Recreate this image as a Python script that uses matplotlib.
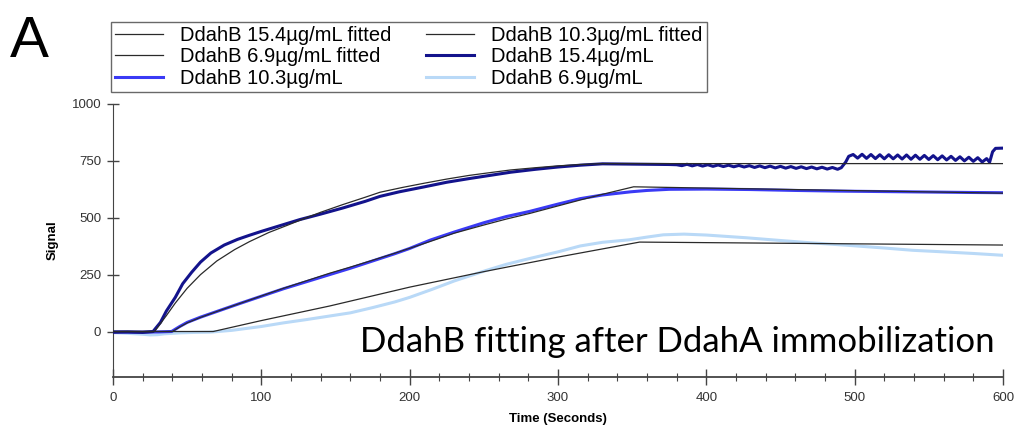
import numpy as np
import matplotlib.pyplot as plt
from matplotlib.ticker import MultipleLocator

# DdahB 15.4 ug/mL - measured
t_154 = [0, 10, 20, 27, 32, 36, 42, 47, 53, 59, 66, 75, 84, 92, 100, 110, 118, 126,
         140, 155, 170, 180, 193, 210, 225, 240, 255, 268, 285, 300, 315, 330, 345, 360, 375,
         380, 383.5, 387, 390.5, 394, 397.5, 401, 404.5, 408, 411.5, 415, 418.5, 422, 425.5,
         429, 432.5, 436, 439.5, 443, 446.5, 450, 453.5, 457, 460.5, 464, 467.5, 471, 474.5,
         478, 481.5, 485, 488.5, 491, 494, 496, 499, 502, 505, 508, 511, 514, 517, 520, 523,
         526, 529, 532, 535, 538, 541, 544, 547, 550, 553, 556, 559, 562, 565, 568, 571, 574,
         577, 580, 583, 586, 589, 591, 593, 595, 600]
s_154 = [-3, -2, -4, 0, 40, 90, 150, 210, 260, 305, 345, 380, 405, 423, 440, 460, 476, 492,
         516, 543, 572, 594, 614, 636, 656, 672, 687, 700, 713, 723, 731, 737, 736, 735, 734,
         733, 729, 735, 728, 734, 727, 733, 726, 732, 725, 731, 724, 730, 723,
         729, 721, 728, 720, 727, 719, 726, 718, 725, 717, 724, 716, 723, 715,
         722, 714, 721, 713, 720, 745, 770, 778, 762, 779, 761, 778, 760, 777, 759, 777,
         759, 776, 758, 776, 757, 775, 757, 774, 756, 773, 755, 772, 754, 770, 752, 768, 750,
         766, 748, 764, 745, 760, 744, 790, 805, 806]

# DdahB 10.3 ug/mL - measured
t_103 = [0, 15, 30, 39.5, 45, 50, 59, 70, 85, 100, 115, 130, 146, 160, 175, 190, 200, 214,
         230, 250, 265, 281, 300, 315, 330, 349, 360, 375, 400, 430, 460, 490, 520, 550, 580, 600]
s_103 = [-2, -3, -2, 0, 22, 40, 63, 88, 122, 155, 188, 218, 250, 278, 310, 342, 365, 402,
         437, 478, 505, 528, 560, 584, 600, 614, 620, 625, 626, 624, 620, 617, 615, 613, 611, 610]

# DdahB 6.9 ug/mL - measured
t_69 = [0, 10, 20, 25, 30, 35, 45, 55, 65, 80, 100, 115, 130, 146, 160, 175, 190, 200, 215,
        230, 250, 265, 281, 300, 315, 330, 348, 360, 371, 385, 400, 427, 450, 470, 495, 520,
        539, 560, 580, 600]
s_69 = [-5, -8, -12, -15, -14, -10, -6, -4, -3, 5, 22, 38, 52, 68, 82, 105, 130, 150, 185,
        222, 265, 295, 321, 350, 376, 392, 403, 415, 425, 428, 424, 412, 400, 390, 379, 367,
        357, 350, 343, 335]

# fitted curves
tf_154 = [0, 28, 32, 36, 42, 50, 59, 70, 82, 92, 105, 118, 126, 140, 155, 170, 180, 195,
          210, 225, 240, 255, 268, 285, 300, 315, 330, 600]
sf_154 = [0, 0, 35, 70, 125, 190, 250, 310, 360, 395, 435, 468, 489, 524, 558, 590, 612, 633,
          652, 670, 686, 699, 710, 720, 728, 734, 738, 738]
tf_103 = [0, 40, 45, 50, 59, 70, 85, 100, 115, 130, 146, 160, 175, 190, 214, 230, 250, 265,
          281, 300, 315, 330, 351, 600]
sf_103 = [0, 0, 20, 38, 62, 88, 122, 156, 190, 222, 256, 283, 313, 344, 396, 432, 468, 494,
          519, 552, 578, 603, 636, 608]
tf_69 = [0, 67.6, 100, 146, 200, 250, 300, 355, 600]
sf_69 = [0, 0, 48, 112, 195, 263, 327, 393, 380]

plt.rcParams['font.family'] = ['Liberation Sans', 'DejaVu Sans']

fig = plt.figure(figsize=(10.17, 4.29), dpi=100)
ax = fig.add_axes([0.1111, 0.1212, 0.8751, 0.6364])

fit_c = '#2a2a2a'
l_fit154, = ax.plot(tf_154, sf_154, color=fit_c, lw=0.9, zorder=5)
l_fit103, = ax.plot(tf_103, sf_103, color=fit_c, lw=0.9, zorder=5)
l_fit69, = ax.plot(tf_69, sf_69, color=fit_c, lw=0.9, zorder=5)
l_154, = ax.plot(t_154, s_154, color='#13138c', lw=2.2, zorder=3)
l_103, = ax.plot(t_103, s_103, color='#3a3af5', lw=2.2, zorder=2)
l_69, = ax.plot(t_69, s_69, color='#b9d9f7', lw=2.2, zorder=1)

ax.set_xlim(0, 600)
ax.set_ylim(-200, 1000)
ax.spines['top'].set_visible(False)
ax.spines['right'].set_visible(False)
ax.spines['left'].set_color('#444444')
ax.spines['bottom'].set_color('#444444')
ax.spines['bottom'].set_linewidth(1.3)
ax.set_yticks([0, 250, 500, 750, 1000])
ax.xaxis.set_major_locator(MultipleLocator(100))
ax.xaxis.set_minor_locator(MultipleLocator(20))
ax.tick_params(axis='y', direction='inout', length=9, width=1, color='#444444',
               labelsize=9.5, labelcolor='#333333', pad=4)
ax.tick_params(axis='x', which='major', direction='inout', length=11, width=1,
               color='#444444', labelsize=9.5, labelcolor='#333333', pad=5)
ax.tick_params(axis='x', which='minor', direction='inout', length=6, width=0.8,
               color='#444444')
ax.set_xlabel('Time (Seconds)', fontsize=9.5, fontweight='bold', labelpad=7)
ax.set_ylabel('Signal', fontsize=9.5, fontweight='bold', labelpad=9)

handles = [l_fit154, l_fit69, l_103, l_fit103, l_154, l_69]
labels = ['DdahB 15.4µg/mL fitted', 'DdahB 6.9µg/mL fitted', 'DdahB 10.3µg/mL',
          'DdahB 10.3µg/mL fitted', 'DdahB 15.4µg/mL', 'DdahB 6.9µg/mL']
leg = fig.legend(handles, labels, ncol=2, loc='upper left',
                 bbox_to_anchor=(0.109, 0.949), fontsize=14.5, frameon=True,
                 fancybox=False, handlelength=2.4, handletextpad=0.85,
                 columnspacing=1.7, labelspacing=0.12, borderpad=0.2,
                 borderaxespad=0)
leg.get_frame().set_edgecolor('#444444')
leg.get_frame().set_linewidth(1.0)

fig.text(0.01, 0.965, 'A', fontsize=42, va='top', ha='left')
fig.text(0.666, 0.179, 'DdahB fitting after DdahA immobilization', fontsize=25,
         family='Lato', ha='center', va='baseline')

fig.savefig('out.png', dpi=100)
